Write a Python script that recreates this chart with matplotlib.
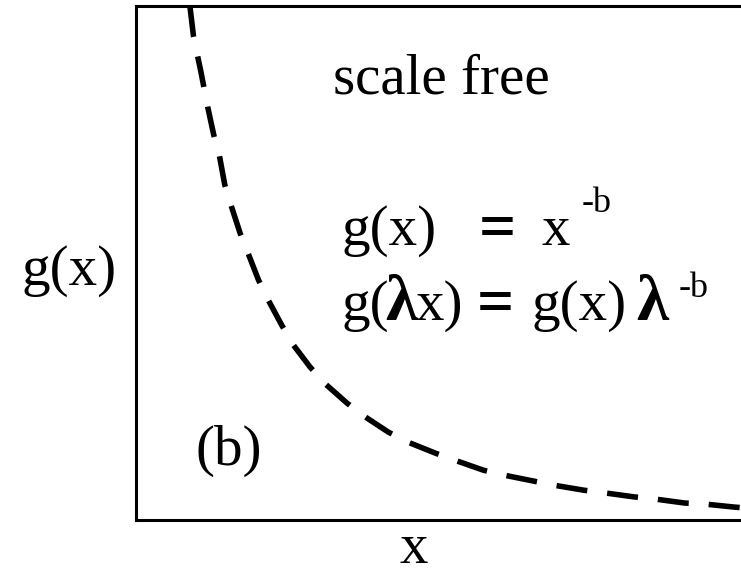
import numpy as np
import matplotlib
matplotlib.use("Agg")
import matplotlib.pyplot as plt

plt.rcParams['font.family'] = ['Liberation Serif', 'DejaVu Serif']

W, H = 741, 574

# power-law curve g(x) ~ x^-b, read in axes units (0..1)
curve_x = [0.088, 0.094, 0.106, 0.117, 0.127, 0.136, 0.145, 0.155, 0.170, 0.183,
           0.200, 0.215, 0.238, 0.256, 0.284, 0.307, 0.344, 0.370, 0.412, 0.443,
           0.489, 0.519, 0.567, 0.598, 0.648, 0.681, 0.731, 0.764, 0.813, 0.846,
           0.896, 0.929, 0.978, 1.000]
curve_y = [1.000, 0.940, 0.872, 0.804, 0.749, 0.710, 0.652, 0.613, 0.558, 0.519,
           0.467, 0.430, 0.379, 0.342, 0.298, 0.267, 0.228, 0.204, 0.171, 0.152,
           0.130, 0.117, 0.097, 0.088, 0.076, 0.068, 0.058, 0.053, 0.045, 0.041,
           0.033, 0.031, 0.025, 0.023]

fig = plt.figure(figsize=(W / 100, H / 100), dpi=100)
ax = fig.add_axes([136 / W, 1 - 520 / H, 1 - 136 / W + 0.01, (520 - 6) / H])

ax.plot(curve_x, curve_y, color='black', lw=4.0, dashes=(5.6, 3.6),
        solid_capstyle='butt', dash_capstyle='butt', clip_on=False)

ax.set_xlim(0, 1)
ax.set_ylim(0, 1)
ax.set_xticks([])
ax.set_yticks([])
ax.spines['right'].set_visible(False)
for s in ['left', 'bottom', 'top']:
    ax.spines[s].set_linewidth(2.2)


def px(x, y):
    return x / W, 1 - y / H


big = 41
small = 26
sym = 47


def put(x, y, s, size=big, **kw):
    fig.text(*px(x, y), s, fontsize=size, va='baseline', **kw)


put(333, 93, "scale free")
put(22, 285, "g(x)")
put(400, 563, "x")
put(195, 465, "(b)")

# g(x) = x^-b
put(341, 245, "g(x)")
put(479, 248, "=", size=sym, weight='bold')
put(542, 245, "x")
put(582, 212, "-b", size=small)

# g(lambda x) = g(x) lambda^-b
put(341, 320, "g(")
put(385, 320, "\u03bb", size=sym, weight='bold')
put(416, 320, "x)")
put(477, 323, "=", size=sym, weight='bold')
put(532, 320, "g(x)")
put(636, 320, "\u03bb", size=sym, weight='bold')
put(679, 297, "-b", size=small)

fig.savefig("out.png", dpi=100)
